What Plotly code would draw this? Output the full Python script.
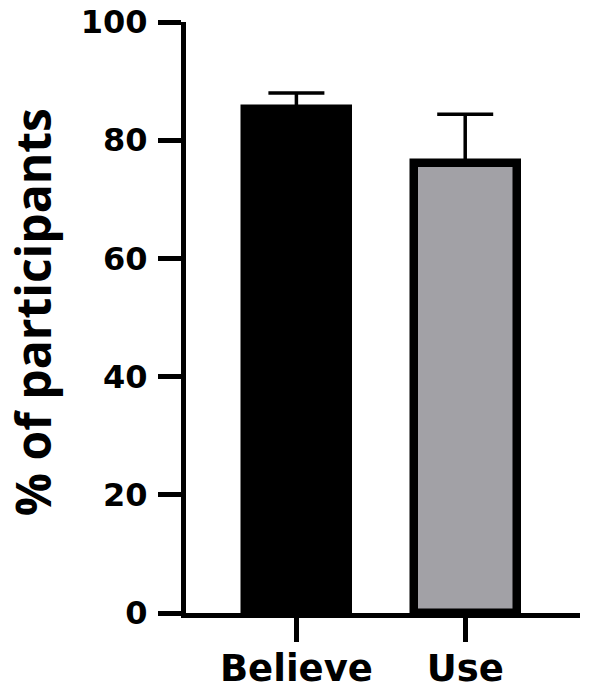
import plotly.graph_objects as go

categories = ["Believe", "Use"]
means = [85.3, 76.1]
err_plus = [2.7, 8.3]
bar_colors = ["#000000", "#a2a1a6"]
y_ticks = [0, 20, 40, 60, 80, 100]
y_title = "% of participants"

fig = go.Figure()
fig.add_trace(go.Bar(
    x=categories,
    y=means,
    width=0.612,
    marker=dict(color=bar_colors, line=dict(color="#000000", width=8.5)),
    error_y=dict(type="data", symmetric=False, array=err_plus, arrayminus=[0, 0],
                 color="#000000", thickness=3.5, width=28),
    showlegend=False,
))

y_tick_font = dict(family="DejaVu Sans, sans-serif", size=32, color="#000000", weight="bold")
x_tick_font = dict(family="DejaVu Sans, sans-serif", size=37, color="#000000", weight="bold")

L, R, T, B = 185.5, 11, 22, 80
W, H = 591, 693
plot_w = W - L - R
plot_h = H - T - B

fig.update_layout(
    template="none",
    width=W, height=H,
    margin=dict(l=L, r=R, t=T, b=B, autoexpand=False),
    plot_bgcolor="white", paper_bgcolor="white",
    bargap=0,
    xaxis=dict(
        range=[-0.654, 1.68], automargin=False,
        showline=True, linecolor="#000000", linewidth=5,
        ticks="outside", ticklen=24, tickwidth=5, tickcolor="#000000",
        tickfont=x_tick_font, showgrid=False, zeroline=False,
        ticklabelstandoff=-5,
    ),
    yaxis=dict(
        range=[0, 100], automargin=False,
        tickvals=y_ticks,
        showline=True, linecolor="#000000", linewidth=5,
        ticks="outside", ticklen=23, tickwidth=5, tickcolor="#000000",
        tickfont=y_tick_font, showgrid=False, zeroline=False,
        ticklabelstandoff=4,
    ),
    annotations=[dict(
        text=y_title, textangle=-90, showarrow=False,
        xref="paper", yref="paper",
        x=(32 - L) / plot_w, y=(H - B - 312.5) / plot_h,
        xanchor="center", yanchor="middle",
        font=dict(family="Open Sans, Noto Sans, sans-serif", size=48,
                  color="#000000", weight="bold"),
    )],
)

fig.write_html("out.html", config={"displayModeBar": False},
               post_script="document.body.style.margin='0';")
